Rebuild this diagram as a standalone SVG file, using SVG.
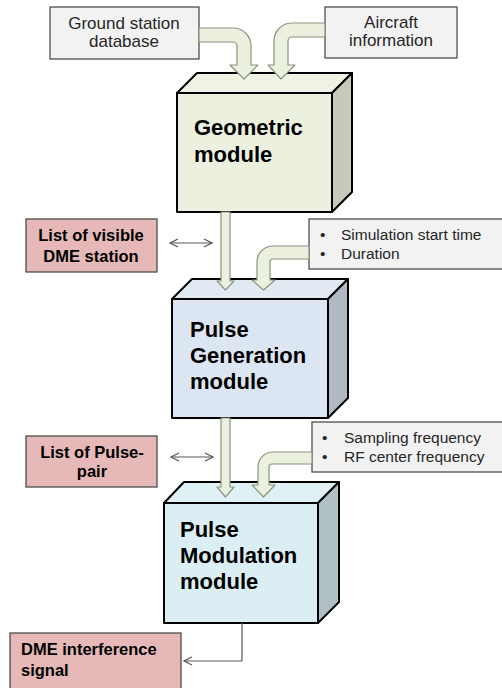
<svg xmlns="http://www.w3.org/2000/svg" width="502" height="688" viewBox="0 0 502 688">
<defs>
<style>
.gbox{fill:#f2f2f2;stroke:#404040;stroke-width:1.2}
.pbox{fill:#e6b9b8;stroke:#404040;stroke-width:1.2}
.cube{stroke:#000;stroke-width:2;stroke-linejoin:round}
.fa{fill:#ebf1de;stroke:#8a9480;stroke-width:1.2;stroke-linejoin:round}
.t{font-family:"Liberation Sans",Arial,sans-serif;fill:#262626}
.reg{font-size:17px;text-anchor:middle}
.bul{font-size:15.5px}
.big{font-size:22px;font-weight:bold;fill:#000}
.lab{font-size:16.5px;font-weight:bold;fill:#000;text-anchor:middle}
.thin{fill:none;stroke:#595959;stroke-width:1.2}
</style>
<marker id="open" viewBox="0 0 10 10" refX="9" refY="5" markerWidth="10" markerHeight="10" markerUnits="userSpaceOnUse" orient="auto-start-reverse">
<path d="M1,1 L9,5 L1,9" fill="none" stroke="#595959" stroke-width="1.2"/>
</marker>
</defs>
<rect width="502" height="688" fill="#fff"/>

<g id="ground-station">
<rect class="gbox" x="50" y="7" width="149" height="52"/>
<text class="t reg" x="124" y="29">Ground station</text>
<text class="t reg" x="124" y="47">database</text>
</g>
<g id="aircraft">
<rect class="gbox" x="325" y="7" width="132" height="51"/>
<text class="t reg" x="391" y="28">Aircraft</text>
<text class="t reg" x="391" y="46">information</text>
</g>

<g id="geometric">
<polygon class="cube" fill="#eef3e3" points="177,93 197,73 352,73 332,93"/>
<polygon class="cube" fill="#c6cab9" points="332,93 352,73 352,192 332,212"/>
<rect class="cube" fill="#ebf1de" x="177" y="93" width="155" height="119"/>
<text class="t big" x="194" y="135">Geometric</text>
<text class="t big" x="194" y="162">module</text>
</g>

<g id="visible-list">
<rect class="pbox" x="26" y="219" width="131" height="53"/>
<text class="t lab" x="91" y="241">List of visible</text>
<text class="t lab" x="91" y="262">DME station</text>
</g>

<g id="sim-params">
<rect class="gbox" x="309" y="219" width="200" height="50"/>
<text class="t bul" x="320" y="240">•</text>
<text class="t bul" x="341" y="240">Simulation start time</text>
<text class="t bul" x="320" y="259">•</text>
<text class="t bul" x="341" y="259">Duration</text>
</g>

<g id="pulse-generation">
<polygon class="cube" fill="#e1e9f3" points="172,299 192,279 348,279 328,299"/>
<polygon class="cube" fill="#b1b9c4" points="328,299 348,279 348,398 328,418"/>
<rect class="cube" fill="#dce6f2" x="172" y="299" width="156" height="119"/>
<text class="t big" x="190" y="337">Pulse</text>
<text class="t big" x="190" y="363">Generation</text>
<text class="t big" x="190" y="389">module</text>
</g>

<g id="pulse-pair-list">
<rect class="pbox" x="26" y="436" width="131" height="51"/>
<text class="t lab" x="92" y="458">List of Pulse-</text>
<text class="t lab" x="92" y="477">pair</text>
</g>

<g id="rf-params">
<rect class="gbox" x="312" y="422" width="197" height="50"/>
<text class="t bul" x="322" y="443">•</text>
<text class="t bul" x="344" y="443">Sampling frequency</text>
<text class="t bul" x="322" y="462">•</text>
<text class="t bul" x="344" y="462">RF center frequency</text>
</g>

<g id="pulse-modulation">
<polygon class="cube" fill="#e0f1f6" points="164,503 184,482 339,482 318,503"/>
<polygon class="cube" fill="#b0bfc4" points="318,503 339,482 339,602 318,623"/>
<rect class="cube" fill="#dbeef4" x="164" y="503" width="154" height="120"/>
<text class="t big" x="180" y="537">Pulse</text>
<text class="t big" x="180" y="563">Modulation</text>
<text class="t big" x="180" y="589">module</text>
</g>

<g id="dme-signal">
<rect class="pbox" x="10" y="633" width="171" height="60"/>
<text class="t" x="21" y="655" style="font-size:16.5px;font-weight:bold;fill:#000">DME interference</text>
<text class="t" x="21" y="676" style="font-size:16.5px;font-weight:bold;fill:#000">signal</text>
</g>

<g id="connectors">
<path class="fa" d="M199,28 H233 A18,18 0 0 1 251,46 V65 H258 L244,79 L230,65 H237 V46 A4,4 0 0 0 233,42 H199 Z"/>
<path class="fa" d="M325,23 H292 A18,18 0 0 0 274,41 V65 H268 L281,79 L295,65 H288 V41 A4,4 0 0 1 292,37 H325 Z"/>
<path class="fa" d="M221,212 V281 H217 L225.5,290 L234,281 H230 V212 Z"/>
<path class="fa" d="M309,246 H273 A16,16 0 0 0 257,262 V280 H252 L263.5,290 L275,280 H270 V262 A3,3 0 0 1 273,259 H309 Z"/>
<path class="fa" d="M221,418 V487 H217 L225.5,497 L234,487 H230 V418 Z"/>
<path class="fa" d="M312,452 H273 A15,15 0 0 0 258,467 V485 H252 L263.5,497 L275,485 H269 V467 A3,3 0 0 1 272,464 H312 Z"/>
<line class="thin" x1="170" y1="243" x2="212" y2="243" marker-start="url(#open)" marker-end="url(#open)"/>
<line class="thin" x1="171" y1="457" x2="213" y2="457" marker-start="url(#open)" marker-end="url(#open)"/>
<polyline class="thin" points="242,623 242,661 184,661" marker-end="url(#open)"/>
</g>
</svg>
